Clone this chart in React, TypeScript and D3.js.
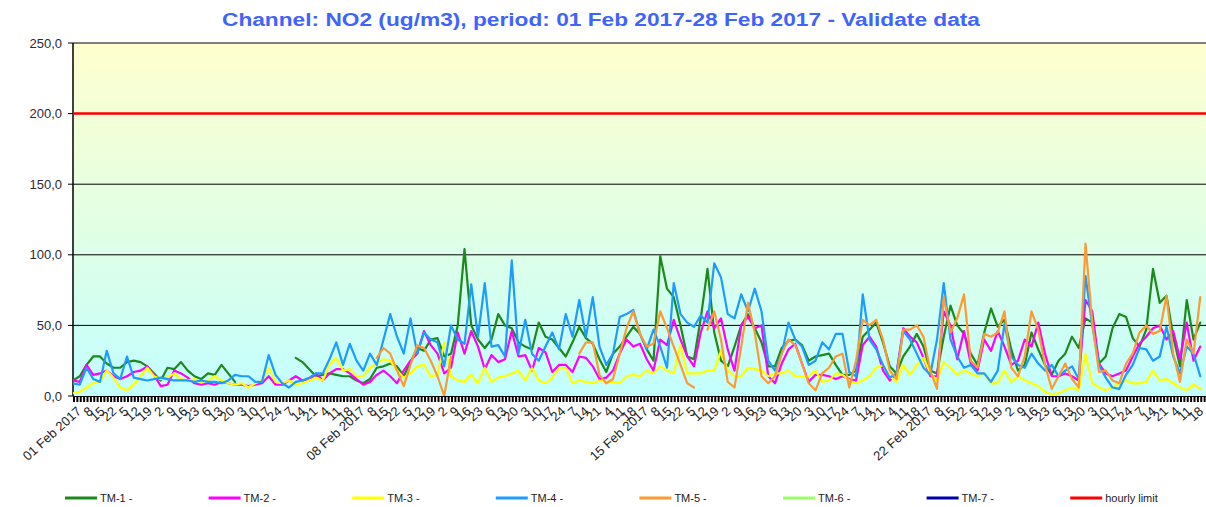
import React from "react";
import * as d3 from "d3";

// NO2 hourly readings, sampled every 4 hours (6 per day, 28 days), ug/m3
const STEP_HOURS = 4;
const TOTAL_HOURS = 672;

const tm1: (number | null)[] = [
  11, 14, 22, 28, 28, 23, 20, 20, 24, 25, 24, 21, 16, 11, 20, 19, 24, 18,
  14, 12, 16, 15, 22, 16, 10, null, null, null, null, null, null, null, null, 27, 24, 19,
  14, 15, 16, 15, 14, 14, 11, 9, 12, 20, 21, 23, 21, 14, 24, 34, 32, 40,
  41, 28, 30, 50, 104, 50, 40, 34, 40, 58, 50, 48, 38, 35, 33, 52, 42, 40,
  34, 28, 38, 49, 41, 37, 26, 17, 30, 35, 42, 49, 44, 33, 25, 99, 76, 70,
  50, 28, 26, 55, 90, 45, 25, 21, 35, 50, 58, 48, 38, 21, 21, 34, 39, 40,
  36, 25, 28, 29, 30, 22, 15, 15, 18, 42, 47, 52, 38, 21, 16, 28, 35, 44,
  35, 18, 16, 42, 64, 50, 44, 30, 22, 45, 62, 49, 54, 33, 18, 22, 45, 33,
  22, 15, 25, 30, 42, 34, 55, 52, 23, 28, 48, 58, 56, 41, 35, 47, 90, 66,
  71, 42, 21, 68, 40, 52,
];

const tm2: (number | null)[] = [
  11, 10, 22, 15, 16, 18, 14, 12, 14, 17, 18, 21, 15, 7, 8, 18, 16, 13,
  9, 8, 9, 8, 10, 9, 8, 8, 7, 8, 9, 14, 8, 8, 11, 14, 11, 11,
  16, 11, 16, 19, 19, 16, 12, 8, 10, 15, 18, 14, 9, 18, 25, 30, 46, 36,
  30, 16, 20, 45, 30, 46, 35, 19, 29, 24, 26, 46, 28, 29, 18, 34, 31, 17,
  22, 22, 17, 28, 27, 21, 12, 13, 18, 30, 40, 35, 37, 26, 18, 40, 36, 54,
  40, 28, 21, 45, 60, 48, 55, 33, 18, 50, 56, 48, 50, 14, 9, 23, 33, 37,
  23, 10, 15, 15, 14, 12, 14, 12, 11, 36, 42, 35, 18, 11, 16, 48, 42, 38,
  27, 14, 14, 60, 50, 26, 46, 23, 18, 40, 32, 46, 35, 22, 25, 40, 35, 52,
  30, 14, 14, 16, 14, 11, 68, 60, 23, 16, 14, 16, 18, 28, 37, 42, 48, 50,
  40, 46, 26, 52, 25, 35,
];

const tm3: (number | null)[] = [
  2, 3, 6, 9, 10, 18, 13, 6, 4, 8, 14, 20, 14, 12, 13, 16, 12, 11,
  12, 10, 11, 14, 11, 9, 8, 9, 6, 9, 11, 20, 10, 9, 11, 8, 9, 11,
  13, 11, 22, 27, 18, 19, 14, 14, 20, 23, 26, 25, 18, 13, 16, 21, 22, 14,
  15, 38, 14, 11, 10, 15, 9, 20, 10, 13, 14, 16, 18, 11, 20, 11, 9, 13,
  20, 20, 9, 11, 10, 9, 11, 10, 10, 9, 14, 15, 14, 18, 16, 21, 18, 16,
  36, 16, 16, 16, 18, 18, 32, 18, 14, 14, 20, 19, 18, 14, 16, 16, 18, 14,
  14, 14, 18, 10, 11, 16, 15, 11, 9, 11, 14, 20, 22, 14, 10, 22, 15, 22,
  27, 16, 11, 24, 20, 15, 18, 16, 14, 16, 9, 9, 18, 10, 14, 11, 9, 7,
  3, 1, 2, 4, 6, 4, 30, 9, 6, 4, 6, 9, 11, 9, 9, 10, 18, 11,
  12, 9, 6, 4, 8, 5,
];

const tm4: (number | null)[] = [
  9, 8, 20, 12, 10, 32, 16, 12, 28, 13, 12, 11, 12, 13, 12, 11, 11, 11,
  10, 11, 10, 10, 9, 11, 15, 14, 14, 10, 10, 29, 15, 9, 6, 10, 11, 13,
  16, 16, 26, 38, 22, 37, 25, 18, 30, 22, 40, 58, 42, 30, 55, 30, 45, 40,
  38, 21, 50, 40, 37, 79, 42, 80, 35, 36, 28, 96, 30, 54, 30, 25, 35, 45,
  33, 58, 42, 68, 42, 70, 35, 22, 30, 56, 58, 61, 44, 33, 47, 35, 20, 80,
  58, 52, 49, 57, 52, 94, 84, 58, 55, 72, 60, 76, 60, 25, 18, 30, 52, 40,
  35, 22, 25, 38, 33, 44, 44, 17, 14, 72, 40, 33, 22, 13, 16, 46, 40, 30,
  20, 15, 40, 80, 40, 28, 20, 22, 16, 16, 10, 18, 51, 28, 22, 20, 30, 23,
  18, 22, 14, 18, 21, 12, 85, 50, 22, 13, 6, 5, 15, 22, 34, 33, 25, 28,
  49, 28, 16, 35, 30, 14,
];

const tm5: (number | null)[] = [
  null, null, null, null, null, null, null, null, null, null, null, null, null, null, null, null, null, null,
  null, null, null, null, null, null, null, null, null, null, null, null, null, null, null, null, null, null,
  null, null, null, null, null, null, null, null, null, 27, 34, 30, 18, 7, 22, 36, 34, 25,
  14, 0, 28, null, null, null, null, null, null, null, null, null, null, null, null, null, null, null,
  null, null, null, 30, 38, 38, 15, 9, 12, 30, 48, 60, 44, 35, 37, 60, 48, 35,
  22, 9, 6, null, 47, 60, 40, 10, 6, 35, 66, 45, 14, 9, 14, 30, 40, 36,
  23, 9, 4, 16, 20, 28, 30, 6, 25, 54, 50, 54, 40, 18, 12, 47, 47, 50,
  42, 18, 5, 70, 45, 55, 72, 25, 20, 44, 42, 45, 60, 20, 14, 28, 60, 47,
  22, 5, 14, 23, 12, 6, 108, 52, 17, 18, 11, 9, 23, 30, 45, 50, 44, 46,
  71, 30, 10, 40, 30, 70,
];

const hourlyLimit = 200;

const seriesNames = ["TM-1 -", "TM-2 -", "TM-3 -", "TM-4 -", "TM-5 -", "TM-6 -", "TM-7 -", "hourly limit"];
const seriesColors = ["#1a8a1a", "#ff00ff", "#ffff00", "#1c9cff", "#ff9933", "#99ff66", "#0000aa", "#ff0000"];
const seriesData = [tm1, tm2, tm3, tm4, tm5];

const yTicks = [0, 50, 100, 150, 200, 250];
const dateLabels = ["01 Feb 2017", "08 Feb 2017", "15 Feb 2017", "22 Feb 2017"];
const hourLabels = [
  "1", "2", "3", "4", "5", "6", "7", "8", "9", "10", "11", "12",
  "13", "14", "15", "16", "17", "18", "19", "20", "21", "22", "23", "24",
];

const W = 1206;
const H = 507;
const left = 73;
const right = 1207;
const top = 43;
const bottom = 396;

const App = () => {
  const x = d3.scaleLinear().domain([0, TOTAL_HOURS]).range([left, right]);
  const y = d3.scaleLinear().domain([0, 250]).range([bottom, top]);

  const line = d3
    .line<number | null>()
    .defined((d) => d != null)
    .x((d, i) => x(i * STEP_HOURS))
    .y((d) => y(d as number));

  const fmt = (v: number) => v.toFixed(1).replace(".", ",");

  const minorTicks = d3.range(0, TOTAL_HOURS, 2);
  const labelTicks = d3.range(0, TOTAL_HOURS, 7);

  const font = "'Liberation Sans', Arial, sans-serif";

  return (
    <svg
      width={W}
      height={H}
      style={{ position: "absolute", left: 0, top: 0, background: "#fff" }}
    >
      <defs>
        <linearGradient id="bg" x1="0" y1="0" x2="0" y2="1">
          <stop offset="0%" stopColor="#ffffcf" />
          <stop offset="55%" stopColor="#e0ffe6" />
          <stop offset="100%" stopColor="#c2ffff" />
        </linearGradient>
        <clipPath id="plot">
          <rect x={left} y={top - 10} width={right - left} height={bottom - top + 10} />
        </clipPath>
      </defs>

      <text
        x={601}
        y={26}
        textAnchor="middle"
        fill="#3f63ff"
        fontFamily="'Liberation Sans Narrow', 'Arial Narrow', 'Liberation Sans', sans-serif"
        fontWeight="bold"
        fontSize={18}
        textLength={758}
        lengthAdjust="spacingAndGlyphs"
      >
        Channel: NO2 (ug/m3), period: 01 Feb 2017-28 Feb 2017 - Validate data
      </text>

      <rect x={left} y={top} width={right - left} height={bottom - top} fill="url(#bg)" />

      {yTicks.map((t) => (
        <g key={t}>
          {t > 0 && (
            <line x1={left} x2={right} y1={y(t)} y2={y(t)} stroke="#000" strokeWidth={1} />
          )}
          <line x1={left - 5} x2={left} y1={y(t)} y2={y(t)} stroke="#000" strokeWidth={1} />
          <text
            x={62}
            y={y(t)}
            dy="0.35em"
            textAnchor="end"
            fontFamily={font}
            fontSize={13}
            fill="#2a2a3a"
          >
            {fmt(t)}
          </text>
        </g>
      ))}

      <line x1={left} x2={left} y1={top} y2={bottom} stroke="#000" strokeWidth={1.5} />
      <line x1={left} x2={right} y1={bottom + 0.5} y2={bottom + 0.5} stroke="#000" strokeWidth={1} />

      <g clipPath="url(#plot)">
        {seriesData.map((s, i) => (
          <path
            key={i}
            d={line(s) || ""}
            fill="none"
            stroke={seriesColors[i]}
            strokeWidth={2.2}
            strokeLinejoin="round"
            strokeLinecap="round"
          />
        ))}
        <line
          x1={left}
          x2={right}
          y1={y(hourlyLimit)}
          y2={y(hourlyLimit)}
          stroke="#ff0000"
          strokeWidth={2.5}
        />
      </g>

      {minorTicks.map((h) => (
        <line
          key={h}
          x1={x(h) + 1}
          x2={x(h) + 1}
          y1={bottom + 1}
          y2={bottom + 6}
          stroke="#000"
          strokeWidth={2}
        />
      ))}

      {labelTicks.map((h) => {
        const label = h % 168 === 0 ? dateLabels[h / 168] : hourLabels[h % 24];
        return (
          <text
            key={h}
            transform={`translate(${x(h) + 6},${bottom + 13}) rotate(-42)`}
            textAnchor="end"
            dy="0.35em"
            fontFamily={font}
            fontSize={13}
            fill="#222"
          >
            {label}
          </text>
        );
      })}

      {seriesNames.map((name, i) => {
        const lx = 65 + i * 143.6;
        return (
          <g key={name}>
            <line x1={lx} x2={lx + 32} y1={498} y2={498} stroke={seriesColors[i]} strokeWidth={3} />
            <text x={lx + 35} y={498} dy="0.35em" fontFamily={font} fontSize={11} fill="#222">
              {name}
            </text>
          </g>
        );
      })}
    </svg>
  );
};

export default App;
